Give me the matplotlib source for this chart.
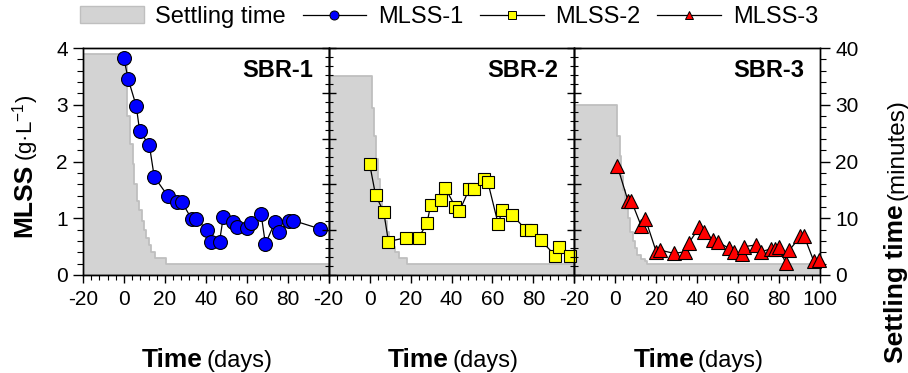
import matplotlib
matplotlib.use("Agg")
import matplotlib.pyplot as plt
from matplotlib.ticker import MultipleLocator
from matplotlib.patches import Patch
from matplotlib.lines import Line2D

plt.rcParams['font.family'] = ['Liberation Sans', 'DejaVu Sans']
plt.rcParams['mathtext.fontset'] = 'custom'
plt.rcParams['mathtext.rm'] = 'Liberation Sans'
plt.rcParams['mathtext.it'] = 'Liberation Sans:italic'
plt.rcParams['mathtext.bf'] = 'Liberation Sans:bold'

# ---- settling time (minutes), step profile: value holds from t[i] to t[i+1]
settle1_t = [-20, 1.7, 3.0, 4.2, 5.0, 6.3, 7.5, 8.7, 9.7, 10.8, 12.0, 13.3, 15.0, 20.4, 100]
settle1_v = [39, 28, 23, 19.5, 16, 13, 11.5, 9.5, 8, 6.5, 5.3, 4, 3, 2]

settle2_t = [-20, 1.3, 2.1, 2.9, 4.0, 5.0, 6.2, 7.3, 8.5, 9.7, 11.3, 12.5, 14.5, 18.2, 100]
settle2_v = [35, 29.5, 24.5, 20.5, 17, 14, 11.5, 9.5, 7.5, 6, 5, 4, 3, 2]

settle3_t = [-20, 1.0, 2.1, 2.9, 3.8, 4.9, 6.0, 7.3, 8.7, 9.5, 10.5, 12.4, 14.4, 15.7, 100]
settle3_v = [30, 24.5, 21, 17.5, 15, 12.5, 10, 7.6, 6, 4.7, 3.6, 2.9, 2.4, 2]

# ---- MLSS (g/L)
day1 = [0, 2, 6, 7.7, 12.4, 14.8, 21.3, 26.1, 28.4, 33, 35.1, 40.8, 42.7, 46.7, 48.5,
        53.2, 55.3, 60.1, 62.2, 67, 69.1, 73.8, 75.9, 80.6, 82.7, 96]
mlss1 = [3.82, 3.46, 2.98, 2.53, 2.29, 1.73, 1.40, 1.29, 1.28, 0.99, 0.99, 0.79, 0.58, 0.59, 1.02,
         0.94, 0.84, 0.82, 0.91, 1.07, 0.55, 0.93, 0.76, 0.95, 0.96, 0.81]

day2 = [0, 2.9, 6.9, 9.2, 18, 24, 28, 29.8, 34.9, 37, 41.9, 43.8, 48.6, 51, 55.9, 57.8,
        62.8, 64.9, 69.7, 76.5, 78.9, 83.7, 90.7, 92.6, 97.7]
mlss2 = [1.96, 1.41, 1.11, 0.59, 0.66, 0.66, 0.91, 1.23, 1.33, 1.53, 1.20, 1.12, 1.51, 1.51, 1.69, 1.63,
         0.90, 1.15, 1.06, 0.79, 0.79, 0.61, 0.34, 0.49, 0.34]

day3 = [1.0, 6.2, 7.8, 12.7, 14.7, 20.1, 21.7, 28.8, 34, 35.9, 41, 43.1, 47.9, 50, 55.7, 58,
        62.1, 63.1, 68.8, 71.1, 76.1, 77.8, 80, 83.2, 85.1, 90.4, 92.3, 96.9, 99.4]
mlss3 = [1.92, 1.31, 1.31, 0.86, 0.99, 0.40, 0.44, 0.38, 0.41, 0.56, 0.84, 0.76, 0.62, 0.58, 0.47, 0.41,
         0.37, 0.50, 0.53, 0.41, 0.46, 0.46, 0.50, 0.21, 0.44, 0.68, 0.68, 0.25, 0.26]

panel_names = ["SBR-1", "SBR-2", "SBR-3"]
series_names = ["MLSS-1", "MLSS-2", "MLSS-3"]
x_ticks = [-20, 0, 20, 40, 60, 80, 100]

settle = [(settle1_t, settle1_v), (settle2_t, settle2_v), (settle3_t, settle3_v)]
mlss = [(day1, mlss1), (day2, mlss2), (day3, mlss3)]
styles = [dict(marker='o', ms=10, mfc='#0000ff'),
          dict(marker='s', ms=8, mfc='#ffff00'),
          dict(marker='^', ms=9.5, mfc='#ff0000')]

GRAY = '#d3d3d3'
GRAY_EDGE = '#bfbfbf'

fig = plt.figure(figsize=(9.08, 3.73), dpi=100)
fig.subplots_adjust(left=83/908, right=820/908, bottom=1 - 275/373, top=1 - 48/373, wspace=0)
axes = [fig.add_subplot(1, 3, i + 1) for i in range(3)]

for i, ax in enumerate(axes):
    tw = ax.twinx()
    t, v = settle[i]
    tw.fill_between(t, list(v) + [v[-1]], 0, step='post', facecolor=GRAY,
                    edgecolor=GRAY_EDGE, linewidth=1.3)
    tw.set_ylim(0, 40)
    ax.set_zorder(tw.get_zorder() + 1)
    ax.patch.set_visible(False)

    d, m = mlss[i]
    ax.plot(d, m, color='black', lw=0.9, mec='black', mew=0.8, clip_on=False,
            zorder=5, **styles[i])
    ax.set_xlim(-20, 100)
    ax.set_ylim(0, 4)

    # x axis
    ax.set_xticks(x_ticks)
    labels = [str(x) for x in x_ticks]
    if i < 2:
        labels[-1] = ''
    ax.set_xticklabels(labels)
    ax.xaxis.set_minor_locator(MultipleLocator(4))
    ax.tick_params(axis='x', which='major', direction='out', length=6, width=1,
                   labelsize=15, pad=5)
    ax.tick_params(axis='x', which='minor', direction='out', length=3.5, width=0.8)

    # y axes
    if i == 0:
        ax.yaxis.set_major_locator(MultipleLocator(1))
        ax.yaxis.set_minor_locator(MultipleLocator(0.2))
        ax.tick_params(axis='y', which='major', direction='out', length=7, width=1,
                       labelsize=15, pad=4)
        ax.tick_params(axis='y', which='minor', direction='out', length=4, width=0.8)
    else:
        ax.yaxis.set_major_locator(MultipleLocator(0.8))
        ax.yaxis.set_minor_locator(MultipleLocator(0.16))
        ax.tick_params(axis='y', which='major', direction='inout', length=10, width=1,
                       labelleft=False)
        ax.tick_params(axis='y', which='minor', direction='inout', length=6, width=0.8)

    if i == 2:
        tw.yaxis.set_major_locator(MultipleLocator(10))
        tw.yaxis.set_minor_locator(MultipleLocator(2))
        tw.tick_params(axis='y', which='major', direction='out', length=7, width=1,
                       labelsize=15, pad=4)
        tw.tick_params(axis='y', which='minor', direction='out', length=4, width=0.8)
    else:
        tw.tick_params(axis='y', which='both', right=False, labelright=False)

    for sp in list(ax.spines.values()) + list(tw.spines.values()):
        sp.set_linewidth(1.0)

    ax.text(0.935, 0.9, panel_names[i], transform=ax.transAxes, ha='right', va='center',
            fontsize=17, fontweight='bold')

    # axis title below each panel
    ax.text(0.488, -0.405, 'Time', transform=ax.transAxes, ha='right', va='baseline',
            fontsize=19, fontweight='bold')
    ax.text(0.503, -0.405, '(days)', transform=ax.transAxes, ha='left', va='baseline',
            fontsize=17)

# left axis title
fig.text(24/908, 1 - 164/373, 'MLSS', rotation=90, ha='center', va='top',
         fontsize=19, fontweight='bold')
fig.text(26/908, 1 - 161/373, r'(g·L$^{-1}$)', rotation=90, ha='center', va='bottom',
         fontsize=16)

# right axis title
fig.text(896/908, 1 - 204/373, 'Settling time', rotation=90, ha='center', va='top',
         fontsize=19, fontweight='bold')
fig.text(898/908, 1 - 200/373, '(minutes)', rotation=90, ha='center', va='bottom',
         fontsize=17.5)

# legend
handles = [Patch(facecolor=GRAY, edgecolor=GRAY_EDGE)]
for st in styles:
    handles.append(Line2D([], [], color='black', lw=0.9, marker=st['marker'],
                          ms=st['ms'] * 0.65, mfc=st['mfc'], mec='black', mew=0.7))
fig.legend(handles, ['Settling time'] + series_names, loc='center',
           bbox_to_anchor=(449/908, 1 - 17/373), ncol=4, frameon=False, fontsize=17,
           handlelength=2.7, handletextpad=0.5, columnspacing=0.7, borderpad=0,
           borderaxespad=0)

fig.savefig('out.png', dpi=100)
